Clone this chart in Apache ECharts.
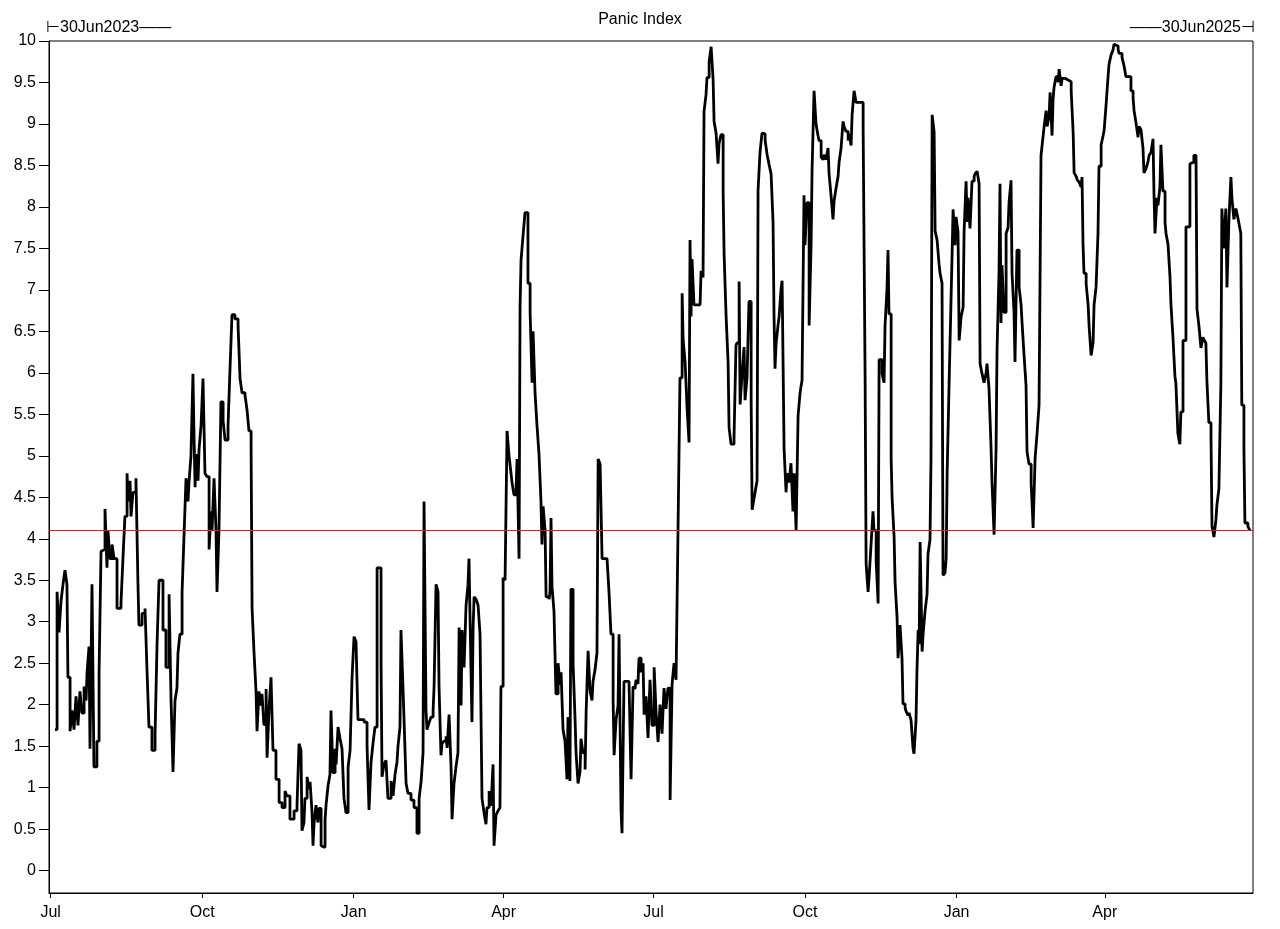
<!DOCTYPE html>
<html>
<head>
<meta charset="utf-8">
<script src="https://cdn.jsdelivr.net/npm/echarts@6/dist/echarts.min.js"></script>
<style>
html,body{margin:0;padding:0;background:#fff;}
#chart{width:1280px;height:929px;}
</style>
</head>
<body>
<div id="chart"></div>
<script>
// ---------------- DATA ----------------
const chartTitle = 'Panic Index';
const startDate = '2023-06-30';
const endDate = '2025-06-30';
const startLabel = '30Jun2023';
const endLabel = '30Jun2025';
const thresholdValue = 4.1;

// observation dates, in days after startDate
const dayOffsets = [
3.6,4.9,6.1,7.3,8.5,9.7,10.9,11.5,12.8,14.0,15.2,16.4,17.6,18.8,20.0,21.3,22.5,23.1,24.3,24.9,26.1,27.3,29.1,30.4,31.6,32.8,34.0,35.2,35.8,37.0,38.3,39.5,41.3,43.7,44.9,46.1,47.4,48.0,49.2,49.8,51.0,52.8,53.4,54.0,54.6,56.5,58.3,59.5,60.7,62.5,64.4,65.6,66.8,
69.2,71.0,72.9,74.1,75.3,76.5,77.7,78.3,79.5,80.8,82.0,83.2,84.4,85.0,86.2,87.4,88.0,88.7,89.3,90.5,91.1,92.3,93.5,94.7,95.9,97.2,98.4,99.0,100.2,101.4,102.0,103.2,104.4,105.7,106.9,108.7,109.9,111.1,112.9,114.8,116.0,117.2,119.0,120.2,121.4,122.7,123.3,124.5,125.7,126.3,127.5,128.7,129.3,130.5,131.8,132.4,133.6,134.8,136.0,137.8,139.7,141.5,
143.3,144.5,146.3,148.8,150.6,151.8,153.0,153.6,154.8,155.4,156.7,157.9,158.5,159.7,160.3,160.9,162.1,163.3,163.9,165.2,166.4,167.6,168.2,169.4,170.6,171.2,172.4,173.7,174.3,175.5,176.7,177.9,179.1,180.3,181.6,182.8,184.0,185.2,186.4,187.6,191.3,193.1,194.3,195.5,196.7,197.9,199.2,200.4,201.6,202.2,203.4,204.6,205.8,207.7,208.9,210.1,211.3,211.9,213.1,213.7,214.9,
215.6,216.8,218.0,219.8,221.6,223.4,224.7,225.9,227.1,227.7,228.3,228.9,229.5,230.7,231.9,233.2,233.8,235.0,236.2,236.8,238.0,238.6,239.8,241.1,241.7,242.9,244.1,244.7,245.9,247.1,248.3,249.0,250.2,250.8,252.0,253.2,254.4,255.0,256.2,256.8,257.5,258.1,259.3,260.5,261.7,262.9,264.1,265.3,265.9,267.2,268.4,269.6,270.2,271.4,272.6,273.8,274.4,275.7,276.9,278.1,279.3,280.5,281.1,282.3,283.6,284.2,285.4,286.0,286.6,287.8,
289.0,290.8,292.1,293.3,293.9,295.1,296.3,297.5,298.7,299.3,300.0,301.2,301.8,303.6,304.2,304.8,305.4,306.6,307.2,307.8,309.1,310.3,310.9,312.1,313.3,314.5,315.1,316.3,316.9,318.2,319.4,320.0,321.2,322.4,323.0,324.2,325.5,326.1,327.3,328.5,329.7,330.3,331.5,332.7,333.4,334.6,335.8,338.8,340.0,341.2,342.5,343.1,344.3,345.5,346.1,347.3,347.9,349.1,352.2,353.4,354.6,355.8,356.4,357.6,358.2,359.5,360.7,361.3,362.5,363.7,364.9,366.1,367.4,368.6,369.8,371.0,372.2,373.4,374.6,375.8,377.1,378.3,379.5,380.7,381.9,
383.1,384.4,385.0,386.2,387.4,388.6,389.2,389.8,390.4,391.6,395.3,395.9,397.1,397.7,398.9,399.5,400.8,402.0,403.2,403.8,405.0,406.2,406.8,408.0,409.3,409.9,411.1,412.3,412.9,414.1,415.9,417.1,417.7,419.0,419.6,420.8,422.0,422.6,423.8,425.0,426.3,426.9,428.1,429.3,429.9,430.5,431.7,432.9,
433.5,434.8,436.0,437.2,438.4,439.6,440.2,440.8,441.4,442.6,443.3,444.5,445.1,446.3,447.5,448.1,449.3,450.5,451.7,452.4,453.6,454.8,456.0,457.2,458.4,459.0,460.2,461.5,462.7,463.3,464.5,465.7,466.9,467.5,468.8,470.0,470.6,471.8,473.0,473.6,474.8,476.0,476.7,477.9,479.1,479.7,480.9,482.1,482.7,483.9,485.2,485.8,487.0,487.6,488.8,490.0,493.0,494.3,495.5,496.1,497.3,497.9,499.1,500.3,500.9,502.2,503.4,504.0,
505.8,507.0,507.6,508.8,509.4,510.0,511.3,511.9,513.1,513.7,514.9,515.5,516.7,517.9,518.5,519.8,520.4,521.6,522.2,523.4,524.6,525.2,526.4,527.0,527.7,528.3,528.9,530.1,530.7,531.9,533.1,533.7,534.9,535.5,536.2,537.4,538.0,539.2,540.4,541.0,542.2,542.8,544.0,544.7,545.3,546.5,547.7,548.3,548.9,550.1,550.7,551.9,552.6,553.8,555.0,555.6,556.8,557.4,558.0,559.2,560.4,561.7,562.3,563.5,564.7,565.3,566.5,567.7,568.9,569.5,570.7,571.9,572.6,573.8,575.0,575.6,576.8,577.4,
578.0,578.6,579.8,581.1,582.3,582.9,584.1,584.7,585.9,586.5,587.7,589.0,590.2,590.8,592.0,593.2,593.8,595.0,596.3,596.9,597.5,598.7,599.9,601.1,602.3,603.0,604.2,605.4,606.0,607.2,607.8,609.0,609.6,610.2,611.4,612.7,613.3,614.5,615.1,616.9,618.7,620.6,621.8,622.4,623.6,624.2,625.4,626.6,627.2,627.8,628.4,629.7,630.9,631.5,632.7,633.9,634.5,635.7,636.9,637.5,638.8,640.0,640.6,641.8,643.0,643.6,644.8,646.0,646.6,647.8,649.1,649.7,
651.5,652.7,653.9,656.9,658.2,658.8,660.0,661.2,661.8,663.0,664.2,664.8,666.0,667.2,667.9,669.1,670.3,670.9,671.5,672.7,673.3,674.5,675.1,676.3,677.6,678.2,679.4,680.6,681.2,682.4,683.6,684.2,685.4,686.6,687.2,688.5,689.7,690.3,691.5,692.7,693.9,695.1,696.4,697.0,698.2,699.4,700.6,701.2,702.4,703.0,704.2,705.5,706.1,707.3,708.5,709.1,710.3,711.5,712.1,713.3,714.5,715.2,716.4,717.6,718.2,719.4,720.6,721.2,722.4,723.6,724.2,725.5,726.1,727.9,729.1
];

const panicValues = [
1.70,3.36,2.87,3.25,3.45,3.62,3.45,2.33,1.68,1.93,1.70,2.10,1.75,2.16,1.90,2.22,2.05,2.39,2.70,1.47,3.45,1.25,1.56,2.39,3.85,3.87,4.36,3.65,4.10,3.76,3.93,3.76,3.16,3.22,3.76,4.27,4.79,4.45,4.70,4.27,4.56,4.73,4.10,3.47,2.96,3.10,3.16,2.42,1.73,1.45,1.65,2.73,3.50,
2.90,2.45,3.33,2.05,1.19,2.05,2.20,2.62,2.85,3.36,4.05,4.73,4.45,4.68,5.00,5.99,5.30,4.62,5.02,4.70,5.08,5.36,5.93,4.79,4.75,3.87,4.33,4.10,4.73,4.10,3.36,4.10,5.65,5.42,5.19,5.36,6.05,6.70,6.65,6.56,5.93,5.76,5.73,5.56,5.30,5.08,3.16,2.62,2.16,1.68,2.16,1.99,2.13,1.76,2.19,1.36,1.95,2.33,1.45,1.10,0.82,0.76,
0.96,0.90,0.62,0.72,0.80,1.53,1.45,0.48,0.58,0.87,1.13,0.98,1.07,0.70,0.30,0.56,0.79,0.58,0.75,0.30,0.28,0.61,0.79,1.02,1.16,1.93,1.18,1.47,1.28,1.73,1.59,1.47,0.87,0.70,1.25,1.45,2.33,2.82,2.76,1.82,1.79,1.50,0.73,1.30,1.53,1.73,3.65,3.65,2.50,1.13,1.28,1.33,0.87,1.08,0.90,1.16,1.31,1.50,1.73,2.90,2.22,
1.80,1.05,0.93,0.85,0.76,0.45,0.87,1.07,1.42,4.45,3.19,1.93,1.70,1.78,1.85,1.93,2.22,3.45,3.36,2.22,1.39,1.53,1.56,1.62,1.48,1.88,1.25,0.62,1.05,1.25,1.42,2.93,1.99,2.90,2.45,3.19,3.45,3.76,2.42,1.79,2.93,3.30,3.27,3.20,2.85,0.87,0.70,0.56,0.76,0.96,0.78,1.28,0.30,0.67,0.72,0.76,2.22,3.53,3.50,5.30,5.00,4.79,4.68,4.53,4.62,4.96,3.76,6.79,7.36,7.65,
7.93,7.08,6.73,5.88,6.50,5.76,5.36,5.02,4.45,3.93,4.39,4.10,3.30,3.27,3.36,4.25,3.42,3.13,2.62,2.13,2.50,2.24,2.39,1.70,1.56,1.10,1.85,1.08,3.39,2.50,1.82,1.42,1.05,1.19,1.59,1.42,1.22,1.90,2.65,2.16,2.05,2.28,2.42,2.62,4.96,4.90,3.76,3.76,3.36,2.85,2.05,1.39,1.82,1.99,2.85,0.73,0.45,2.28,2.22,1.10,2.22,2.19,2.30,2.25,2.56,2.39,2.50,1.88,2.10,1.60,2.30,1.75,2.45,1.90,1.55,2.00,1.65,2.20,1.95,2.20,0.85,2.25,2.50,2.30,4.10,
5.94,6.96,6.40,6.13,5.57,5.16,7.60,6.68,7.37,6.82,6.82,7.23,7.15,9.15,9.35,9.56,9.75,9.93,9.54,9.03,8.89,8.52,8.76,8.87,8.16,7.42,6.68,6.13,5.34,5.14,5.21,6.33,6.36,7.10,5.62,5.99,6.31,5.67,5.94,6.86,5.67,4.35,4.49,4.63,4.70,8.20,8.66,8.89,
8.88,8.80,8.63,8.51,8.40,7.82,6.68,6.05,6.34,6.57,6.68,7.02,7.11,5.08,4.56,4.79,4.68,4.91,4.33,4.79,4.10,5.48,5.76,5.91,8.14,7.54,8.05,6.57,7.54,8.45,9.40,9.00,8.86,8.80,8.60,8.57,8.63,8.57,8.71,8.40,8.14,7.85,8.08,8.23,8.37,8.54,8.71,9.03,8.97,8.91,8.80,8.88,8.74,9.11,9.40,9.26,9.26,8.94,5.94,3.70,3.36,3.53,3.93,4.33,4.10,3.73,3.22,6.16,
5.99,5.88,6.57,7.02,7.48,6.71,4.96,4.48,4.02,3.47,3.05,2.56,2.96,2.56,2.01,1.96,1.92,1.87,1.90,1.81,1.47,1.41,1.81,2.42,2.90,2.73,3.96,2.64,2.85,3.13,3.33,3.82,3.99,4.96,9.11,8.90,7.71,7.60,7.31,7.20,7.08,3.56,3.59,3.76,4.79,5.88,6.91,7.42,7.97,7.54,7.88,7.70,6.39,6.68,6.79,7.71,8.31,7.82,8.11,7.74,8.31,8.37,8.40,8.43,8.28,6.11,5.99,5.88,5.99,6.11,5.82,5.13,4.65,4.05,5.08,6.28,7.22,8.28,
6.60,7.30,6.73,7.68,7.75,8.06,8.32,7.20,6.73,6.13,7.48,7.03,6.82,6.60,6.21,5.85,5.05,4.90,4.66,4.41,4.13,4.97,5.27,5.61,8.62,8.75,8.97,9.16,8.97,9.10,9.38,8.86,9.29,9.44,9.57,9.50,9.66,9.46,9.55,9.53,9.51,9.40,8.90,8.41,8.37,8.33,8.30,8.24,8.36,7.55,7.20,7.07,6.82,6.56,6.21,6.36,6.82,7.03,7.68,8.49,8.75,8.86,8.92,9.23,9.57,9.72,9.83,9.89,9.96,9.94,9.90,9.85,
9.80,9.70,9.57,9.40,9.31,9.16,9.01,8.84,8.97,8.93,8.71,8.41,8.46,8.54,8.62,8.66,8.82,8.15,7.68,8.11,8.02,8.24,8.75,8.19,7.81,7.68,7.55,7.16,6.82,6.43,5.96,5.87,5.27,5.14,5.53,6.39,6.39,7.76,7.76,8.52,8.54,8.62,8.64,6.77,6.56,6.30,6.43,6.40,6.36,5.91,5.40,5.22,4.15,4.02,4.23,4.41,4.60,5.87,7.98,7.50,7.98,7.03,7.85,8.36,8.11,7.85,7.98,7.93,7.81,7.68,5.61,5.07,4.19,4.15,4.10
];

const yTickLabels = ['0','0.5','1','1.5','2','2.5','3','3.5','4','4.5','5','5.5','6','6.5','7','7.5','8','8.5','9','9.5','10'];
const xTickDates = ['2023-07-01','2023-10-01','2024-01-01','2024-04-01','2024-07-01','2024-10-01','2025-01-01','2025-04-01'];
const xTickLabels = ['Jul','Oct','Jan','Apr','Jul','Oct','Jan','Apr'];

// ---------------- BUILD ----------------
const DAY = 86400000;
function parseLocal(s){ const p = s.split('-').map(Number); return new Date(p[0], p[1]-1, p[2]).getTime(); }
const t0 = parseLocal(startDate);
const t1 = parseLocal(endDate);
const nPts = Math.min(dayOffsets.length, panicValues.length);
const seriesData = [];
for (let i = 0; i < nPts; i++) seriesData.push([t0 + dayOffsets[i] * DAY, panicValues[i]]);
const xTickTimes = xTickDates.map(parseLocal);
const yTickNums = yTickLabels.map(Number);
const FONT = '"Liberation Sans", Arial, sans-serif';

const chart = echarts.init(document.getElementById('chart'), null, {renderer: 'canvas'});
chart.setOption({
  animation: false,
  backgroundColor: '#fff',
  title: {
    text: chartTitle, left: 'center', top: 7,
    textStyle: {fontFamily: FONT, fontSize: 16, fontWeight: 'normal', color: '#000'}
  },
  graphic: [
    {type: 'text', left: 46, top: 20, style: {text: '\u22A2' + startLabel + '\u2014\u2014', font: '16px ' + FONT, fill: '#000'}},
    {type: 'text', right: 25, top: 20, style: {text: '\u2014\u2014' + endLabel + '\u22A3', font: '16px ' + FONT, fill: '#000'}}
  ],
  grid: {left: 49, right: 27, top: 41, bottom: 36, show: true, borderColor: '#000', borderWidth: 1, backgroundColor: '#fff'},
  xAxis: {
    type: 'value', min: t0, max: t1,
    axisLine: {show: true, onZero: false, lineStyle: {color: '#000', width: 1}},
    axisTick: {show: true, length: 5, lineStyle: {color: '#000'}, customValues: xTickTimes},
    splitLine: {show: false},
    axisLabel: {
      customValues: xTickTimes, color: '#000', fontFamily: FONT, fontSize: 16, margin: 12,
      formatter: function (v) { const i = xTickTimes.indexOf(v); return i >= 0 ? xTickLabels[i] : ''; }
    }
  },
  yAxis: {
    type: 'value', min: -0.27, max: 10,
    axisLine: {show: true, onZero: false, lineStyle: {color: '#000', width: 1}},
    axisTick: {show: true, inside: false, length: 10, lineStyle: {color: '#000'}, customValues: yTickNums},
    splitLine: {show: false},
    axisLabel: {
      customValues: yTickNums, color: '#000', fontFamily: FONT, fontSize: 16, margin: 13,
      formatter: function (v) { const i = yTickNums.indexOf(v); return i >= 0 ? yTickLabels[i] : ''; }
    }
  },
  series: [{
    type: 'line', name: chartTitle, data: seriesData, step: 'end',
    showSymbol: false, symbol: 'none',
    lineStyle: {color: '#000', width: 2.8},
    z: 3,
    markLine: {
      silent: true, symbol: ['none', 'none'], label: {show: false},
      lineStyle: {color: '#d42020', width: 1.2, type: 'solid'},
      data: [{yAxis: thresholdValue}],
      z: 4
    }
  }]
});
</script>
</body>
</html>
